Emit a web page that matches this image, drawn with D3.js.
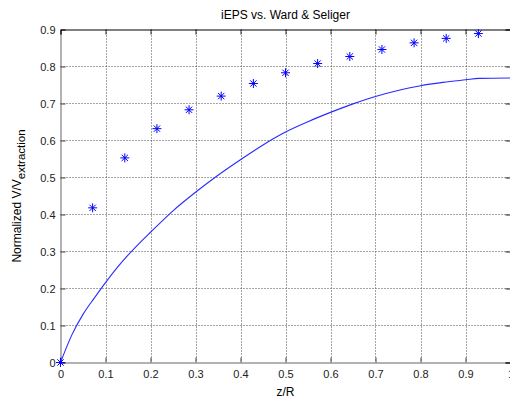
<!DOCTYPE html>
<html>
<head>
<meta charset="utf-8">
<script src="https://cdn.jsdelivr.net/npm/d3@7"></script>
<style>
  html, body { margin: 0; padding: 0; background: #fff; overflow: hidden; }
  svg { display: block; }
  text { font-family: "Liberation Sans", Arial, Helvetica, sans-serif; }
</style>
</head>
<body>
<svg id="chart" width="510" height="398"></svg>
<script>
// ---- data ----
const starX = [0, 0.0714, 0.1429, 0.2143, 0.2857, 0.3571, 0.4286, 0.5, 0.5714, 0.6429, 0.7143, 0.7857, 0.8571, 0.9286];
const starY = [0, 0.418, 0.553, 0.632, 0.683, 0.720, 0.754, 0.783, 0.808, 0.827, 0.846, 0.864, 0.876, 0.889];

const curveX = [0, 0.025, 0.05, 0.075, 0.1, 0.125, 0.15, 0.175, 0.2, 0.25, 0.3, 0.35, 0.4, 0.45, 0.5, 0.55, 0.6, 0.65, 0.7, 0.75, 0.8, 0.85, 0.9, 0.93, 1.0];
const curveY = [0, 0.074, 0.130, 0.174, 0.216, 0.255, 0.290, 0.322, 0.352, 0.410, 0.460, 0.506, 0.548, 0.588, 0.623, 0.651, 0.676, 0.699, 0.719, 0.735, 0.748, 0.757, 0.764, 0.768, 0.769];

const xTicks = [0, 0.1, 0.2, 0.3, 0.4, 0.5, 0.6, 0.7, 0.8, 0.9, 1];
const xTickLabels = ["0", "0.1", "0.2", "0.3", "0.4", "0.5", "0.6", "0.7", "0.8", "0.9", "1"];
const yTicks = [0, 0.1, 0.2, 0.3, 0.4, 0.5, 0.6, 0.7, 0.8, 0.9];
const yTickLabels = ["0", "0.1", "0.2", "0.3", "0.4", "0.5", "0.6", "0.7", "0.8", "0.9"];

const titleText = "iEPS vs. Ward & Seliger";
const xLabelText = "z/R";
const yLabelMain = "Normalized V/V";
const yLabelSub = "extraction";

// ---- layout ----
const svg = d3.select("#chart");
const pL = 60.5, pR = 510.5, pT = 29.5, pB = 362.5;
const x = d3.scaleLinear().domain([0, 1]).range([pL, pR]);
const y = d3.scaleLinear().domain([0, 0.9]).range([pB, pT]);

// grid
const grid = svg.append("g").attr("stroke", "#4a4a4a").attr("stroke-width", 1).attr("stroke-dasharray", "1,2");
grid.selectAll("line.v").data(xTicks.filter(d => d > 0 && d < 1)).join("line")
  .attr("x1", d => Math.round(x(d)) + 0.5).attr("x2", d => Math.round(x(d)) + 0.5)
  .attr("y1", pT).attr("y2", pB);
grid.selectAll("line.h").data(yTicks.filter(d => d > 0 && d < 0.9)).join("line")
  .attr("y1", d => Math.round(y(d) - 0.5) + 0.5).attr("y2", d => Math.round(y(d) - 0.5) + 0.5)
  .attr("x1", pL).attr("x2", pR);

// axes
const fmtX = d => xTickLabels[xTicks.indexOf(d)];
const fmtY = d => yTickLabels[yTicks.indexOf(d)];

const gB = svg.append("g").attr("transform", `translate(0,${pB})`)
  .call(d3.axisBottom(x).tickValues(xTicks).tickFormat(fmtX).tickSize(-5).tickPadding(7.5));
const gL = svg.append("g").attr("transform", `translate(${pL},0)`)
  .call(d3.axisLeft(y).tickValues(yTicks).tickFormat(fmtY).tickSize(-5).tickPadding(5));
const gT = svg.append("g").attr("transform", `translate(0,${pT})`)
  .call(d3.axisTop(x).tickValues(xTicks).tickFormat("").tickSize(-5));
const gR = svg.append("g").attr("transform", `translate(${pR},0)`)
  .call(d3.axisRight(y).tickValues(yTicks).tickFormat("").tickSize(-5));

[gB, gL].forEach(g => {
  g.select(".domain").attr("stroke", "#666");
  g.selectAll(".tick line").attr("stroke", "#444");
  g.selectAll(".tick text").attr("fill", "#222").attr("font-size", 11)
    .attr("font-family", "'Liberation Sans', Arial, sans-serif");
});
[gT, gR].forEach(g => {
  g.select(".domain").attr("stroke", "#000");
  g.selectAll(".tick line").attr("stroke", "#222");
});

// curve
const pts = curveX.map((v, i) => [v, curveY[i]]);
svg.append("path").datum(pts)
  .attr("fill", "none").attr("stroke", "#2a2aff").attr("stroke-width", 1.1)
  .attr("d", d3.line().x(d => x(d[0])).y(d => y(d[1])).curve(d3.curveMonotoneX));

// stars
const s = 4.5;
const starPath = `M${-s},0H${s}M0,${-s}V${s}M${-s*0.7},${-s*0.7}L${s*0.7},${s*0.7}M${-s*0.7},${s*0.7}L${s*0.7},${-s*0.7}`;
svg.append("g").selectAll("path").data(starX.map((v, i) => [v, starY[i]])).join("path")
  .attr("transform", d => `translate(${x(d[0])},${y(d[1])})`)
  .attr("d", starPath).attr("fill", "none").attr("stroke", "#0000ff").attr("stroke-width", 1);

// title & labels
svg.append("text").attr("x", (pL + pR) / 2).attr("y", 18.5).attr("text-anchor", "middle")
  .attr("font-size", 12).attr("fill", "#000").text(titleText);
svg.append("text").attr("x", (pL + pR) / 2).attr("y", 396).attr("text-anchor", "middle")
  .attr("font-size", 12).attr("fill", "#000").text(xLabelText);
const yl = svg.append("text").attr("transform", `translate(21,${(pT + pB) / 2}) rotate(-90)`)
  .attr("text-anchor", "middle").attr("font-size", 12).attr("fill", "#000");
yl.append("tspan").text(yLabelMain);
yl.append("tspan").attr("font-size", 11.5).attr("dy", 4).text(yLabelSub);
</script>
</body>
</html>
